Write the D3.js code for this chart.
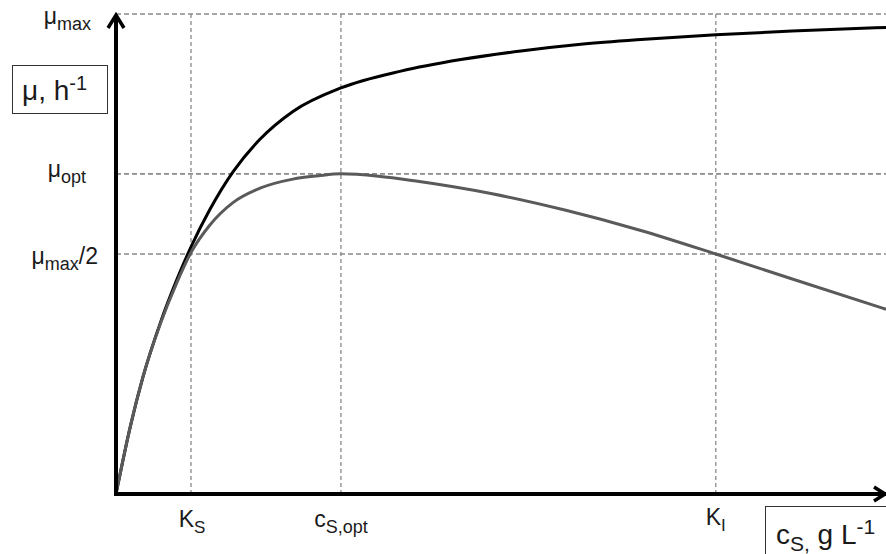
<!DOCTYPE html>
<html>
<head>
<meta charset="utf-8">
<script src="https://cdn.jsdelivr.net/npm/d3@7"></script>
<style>
  body { margin: 0; background: #fff; }
  text { font-family: "Liberation Sans", Arial, sans-serif; fill: #1a1a1a; }
</style>
</head>
<body>
<svg id="canvas"></svg>
<script>
let width = 886, height = 554

let svg = d3.select('#canvas').attr("width", width).attr("height", height)

// substrate concentration in units of K_S, growth rate as fraction of mu_max
const monodS  = [0, 0.19, 0.36, 0.59, 0.81, 1.01, 1.25, 1.56, 1.92, 2.36, 3.0, 3.8, 4.6, 5.4, 6.2, 7.0, 8.0, 9.1, 10.27]
const monodMu = [0, 0.140, 0.244, 0.356, 0.446, 0.518, 0.592, 0.671, 0.739, 0.797, 0.846, 0.881, 0.905, 0.923, 0.937, 0.947, 0.957, 0.965, 0.972]

const haldaneS  = [0, 0.19, 0.36, 0.59, 0.81, 1.0, 1.25, 1.56, 1.92, 2.36, 2.7, 3.0, 3.5, 4.0, 4.5, 5.0, 6.0, 7.0, 8.0, 9.0, 10.27]
const haldaneMu = [0, 0.140, 0.244, 0.354, 0.440, 0.503, 0.560, 0.607, 0.637, 0.656, 0.663, 0.667, 0.662, 0.652, 0.640, 0.626, 0.591, 0.549, 0.500, 0.449, 0.385]

const xMarks = [1, 3, 8]            // K_S, c_S,opt, K_I
const yMarks = [1, 0.667, 0.5]      // mu_max, mu_opt, mu_max/2
const xMax = 10.27

let x = d3.scaleLinear().domain([0, xMax]).range([116, 886])
let y = d3.scaleLinear().domain([0, 1]).range([494, 14])

// dashed guide lines
svg.selectAll(".vgrid")
  .data(xMarks)
  .enter()
  .append("line")
  .attr("x1", d => x(d)).attr("x2", d => x(d))
  .attr("y1", y(0)).attr("y2", y(1))
  .style("stroke", "#8a8a8a").style("stroke-width", 1.3)
  .style("stroke-dasharray", "4,3")

svg.selectAll(".hgrid")
  .data(yMarks)
  .enter()
  .append("line")
  .attr("x1", x(0)).attr("x2", x(xMax))
  .attr("y1", d => y(d)).attr("y2", d => y(d))
  .style("stroke", "#8a8a8a").style("stroke-width", 1.7)
  .style("stroke-dasharray", "5,3")

let line = d3.line().x(d => x(d[0])).y(d => y(d[1])).curve(d3.curveMonotoneX)

svg.append("path")
  .datum(d3.zip(monodS, monodMu))
  .attr("d", line)
  .style("fill", "none").style("stroke", "#000").style("stroke-width", 3)

svg.append("path")
  .datum(d3.zip(haldaneS, haldaneMu))
  .attr("d", line)
  .style("fill", "none").style("stroke", "#5a5a5a").style("stroke-width", 3)

// axes with open arrowheads
let axis = svg.append("g").style("stroke", "#000").style("stroke-width", 4)
  .style("fill", "none").style("stroke-linecap", "butt")
axis.append("line").attr("x1", x(0)).attr("y1", y(0)).attr("x2", x(0)).attr("y2", y(1) + 1)
axis.append("line").attr("x1", x(0) - 2).attr("y1", y(0)).attr("x2", x(xMax)).attr("y2", y(0))
axis.append("path").attr("d", `M${x(0) - 8},${y(1) + 14}L${x(0)},${y(1) + 1}L${x(0) + 8},${y(1) + 14}`)
  .style("stroke-width", 3.5)
axis.append("path").attr("d", `M${x(xMax) - 12},${y(0) - 7}L${x(xMax) - 1},${y(0)}L${x(xMax) - 12},${y(0) + 7}`)
  .style("stroke-width", 3.5)

function label(xp, yp, parts, size, anchor, sub) {
  let small = sub || size * 0.76
  let t = svg.append("text").attr("x", xp).attr("y", yp)
    .attr("text-anchor", anchor || "start").style("font-size", size + "px")
  parts.forEach(p => {
    let s = t.append("tspan").text(p[0])
    if (p[1] == "sub") s.attr("dy", size * 0.25).style("font-size", small + "px")
    if (p[1] == "up") s.attr("dy", -size * 0.25)
    if (p[1] == "sup") s.attr("dy", -size * 0.36).style("font-size", small + "px")
  })
  return t
}

// y labels
label(91, y(1) + 10, [["μ"], ["max", "sub"]], 23, "end", 18)
label(86, y(0.667) + 3, [["μ"], ["opt", "sub"]], 23, "end", 18)
label(98, y(0.5) + 10, [["μ"], ["max", "sub"], ["/2", "up"]], 23, "end", 18)

svg.append("rect").attr("x", 12.5).attr("y", 65.5).attr("width", 95).attr("height", 48)
  .style("fill", "none").style("stroke", "#333").style("stroke-width", 1)
label(22, 100, [["μ, h"], ["-1", "sup"]], 28, "start", 20)

// x labels
label(x(1) + 1, y(0) + 33, [["K"], ["S", "sub"]], 23, "middle", 17)
label(x(3), y(0) + 33, [["c"], ["S,opt", "sub"]], 23, "middle", 18)
label(x(8), y(0) + 31, [["K"], ["I", "sub"]], 23, "middle", 17)

svg.append("rect").attr("x", 765.5).attr("y", 506.5).attr("width", 130).attr("height", 60)
  .style("fill", "none").style("stroke", "#333").style("stroke-width", 1)
label(776, 544, [["c"], ["S,", "sub"], [" g L", "up"], ["-1", "sup"]], 28, "start", 21)
</script>
</body>
</html>
